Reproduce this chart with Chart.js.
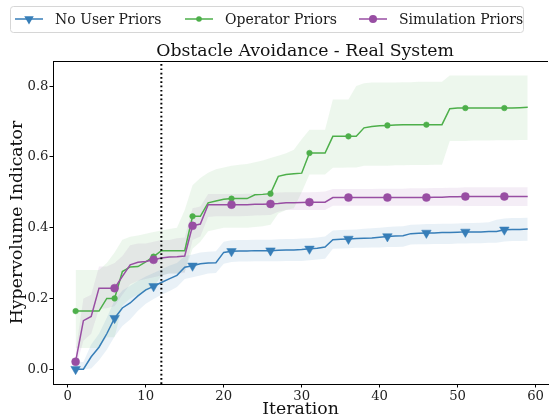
<!DOCTYPE html>
<html><head><meta charset="utf-8">
<script src="https://cdn.jsdelivr.net/npm/chart.js@4/dist/chart.umd.min.js"></script>
<style>html,body{margin:0;padding:0;background:#fff}#wrap{width:554px;height:418px;position:relative}</style>
</head><body><div id="wrap"><canvas id="c" width="554" height="418"></canvas></div>
<script>
// ---- data ----
const iterations = [1,2,3,4,5,6,7,8,9,10,11,12,13,14,15,16,17,18,19,20,21,22,23,24,25,26,27,28,29,30,
  31,32,33,34,35,36,37,38,39,40,41,42,43,44,45,46,47,48,49,50,51,52,53,54,55,56,57,58,59];
const seriesNames = ['No User Priors', 'Operator Priors', 'Simulation Priors'];

const noPriorsMean = [0.000,0.000,0.035,0.062,0.100,0.144,0.173,0.187,0.207,0.224,
 0.234,0.245,0.255,0.265,0.288,0.292,0.298,0.300,0.301,0.330,
 0.333,0.334,0.334,0.335,0.335,0.335,0.336,0.337,0.337,0.338,
 0.340,0.342,0.345,0.366,0.367,0.368,0.369,0.370,0.371,0.373,
 0.375,0.376,0.377,0.383,0.384,0.385,0.385,0.386,0.386,0.387,
 0.388,0.388,0.388,0.389,0.389,0.394,0.395,0.395,0.396];
const noPriorsLow = [0.000,0.000,0.002,0.025,0.055,0.092,0.122,0.140,0.165,0.185,
 0.198,0.210,0.220,0.232,0.255,0.260,0.265,0.270,0.272,0.298,
 0.303,0.304,0.304,0.305,0.305,0.305,0.305,0.306,0.306,0.306,
 0.308,0.310,0.312,0.340,0.341,0.342,0.343,0.343,0.344,0.344,
 0.345,0.345,0.346,0.352,0.353,0.353,0.354,0.354,0.354,0.355,
 0.355,0.356,0.356,0.357,0.357,0.361,0.362,0.362,0.363];
const noPriorsHigh = [0.020,0.020,0.070,0.100,0.145,0.195,0.222,0.236,0.250,0.262,
 0.272,0.282,0.292,0.300,0.320,0.324,0.330,0.332,0.333,0.360,
 0.364,0.365,0.365,0.366,0.366,0.366,0.367,0.368,0.368,0.369,
 0.370,0.372,0.375,0.392,0.393,0.394,0.395,0.397,0.398,0.400,
 0.402,0.403,0.404,0.408,0.409,0.410,0.410,0.411,0.411,0.412,
 0.413,0.413,0.414,0.415,0.422,0.426,0.427,0.427,0.428];

const operatorMean = [0.164,0.164,0.164,0.164,0.200,0.200,0.276,0.289,0.290,0.303,
 0.318,0.335,0.335,0.335,0.335,0.432,0.432,0.470,0.475,0.480,
 0.482,0.482,0.482,0.493,0.494,0.496,0.545,0.550,0.552,0.554,
 0.611,0.611,0.611,0.658,0.658,0.658,0.658,0.682,0.686,0.688,
 0.689,0.690,0.691,0.691,0.691,0.691,0.691,0.691,0.736,0.738,
 0.738,0.738,0.738,0.738,0.738,0.738,0.738,0.739,0.740];
const operatorLow = [0.060,0.060,0.060,0.060,0.090,0.090,0.180,0.200,0.210,0.220,
 0.230,0.265,0.270,0.270,0.275,0.340,0.360,0.390,0.395,0.400,
 0.400,0.400,0.400,0.402,0.404,0.408,0.440,0.450,0.455,0.500,
 0.550,0.550,0.550,0.569,0.569,0.570,0.570,0.575,0.575,0.575,
 0.575,0.576,0.576,0.577,0.577,0.577,0.578,0.578,0.645,0.645,
 0.645,0.646,0.646,0.646,0.647,0.647,0.647,0.648,0.648];
const operatorHigh = [0.280,0.280,0.280,0.280,0.300,0.330,0.366,0.374,0.378,0.383,
 0.388,0.392,0.396,0.400,0.450,0.520,0.540,0.555,0.565,0.570,
 0.575,0.578,0.580,0.585,0.590,0.597,0.603,0.610,0.620,0.650,
 0.677,0.677,0.677,0.762,0.762,0.762,0.800,0.808,0.810,0.810,
 0.810,0.810,0.811,0.811,0.812,0.812,0.812,0.812,0.830,0.830,
 0.830,0.830,0.830,0.830,0.830,0.830,0.830,0.830,0.830];

const simulationMean = [0.021,0.137,0.149,0.229,0.229,0.229,0.262,0.295,0.302,0.304,
 0.309,0.314,0.317,0.318,0.320,0.405,0.410,0.465,0.465,0.465,
 0.465,0.465,0.465,0.466,0.466,0.467,0.468,0.470,0.470,0.471,
 0.472,0.472,0.472,0.485,0.485,0.485,0.485,0.485,0.485,0.485,
 0.485,0.485,0.485,0.485,0.485,0.485,0.486,0.486,0.487,0.487,
 0.488,0.488,0.488,0.488,0.488,0.488,0.488,0.488,0.488];
const simulationLow = [0.000,0.080,0.100,0.170,0.172,0.178,0.210,0.240,0.250,0.255,
 0.260,0.265,0.270,0.270,0.272,0.365,0.375,0.430,0.432,0.432,
 0.432,0.432,0.433,0.434,0.435,0.436,0.445,0.450,0.450,0.450,
 0.450,0.450,0.450,0.462,0.462,0.462,0.462,0.462,0.462,0.462,
 0.462,0.462,0.462,0.462,0.462,0.462,0.462,0.462,0.462,0.462,
 0.461,0.461,0.461,0.461,0.461,0.461,0.461,0.461,0.461];
const simulationHigh = [0.050,0.200,0.210,0.290,0.290,0.300,0.320,0.350,0.355,0.355,
 0.360,0.365,0.365,0.370,0.372,0.455,0.460,0.495,0.495,0.495,
 0.495,0.495,0.496,0.496,0.497,0.497,0.499,0.500,0.500,0.500,
 0.500,0.501,0.502,0.509,0.509,0.509,0.509,0.509,0.509,0.510,
 0.510,0.510,0.510,0.511,0.511,0.511,0.512,0.512,0.513,0.513,
 0.514,0.514,0.514,0.514,0.514,0.514,0.514,0.514,0.514];

const xTicks = [0, 10, 20, 30, 40, 50, 60];
const yTicks = [0.0, 0.2, 0.4, 0.6, 0.8];
const priorsEndIteration = 12;
const titleText = 'Obstacle Avoidance - Real System';
const xLabel = 'Iteration';
const yLabel = 'Hypervolume Indicator';

// ---- styling ----
const FONT = "'DejaVu Serif', 'Liberation Serif', serif";
const colors = ['#377eb8', '#4daf4a', '#984ea3'];
const bandColors = ['rgba(55,126,184,0.11)', 'rgba(77,175,74,0.10)', 'rgba(152,78,163,0.10)'];
const markerStyle = [
  {style: 'triangle', rot: 180, r: 5.5},
  {style: 'circle', rot: 0, r: 2.8},
  {style: 'circle', rot: 0, r: 4}
];
const MARK_EVERY = 5;

const means = [noPriorsMean, operatorMean, simulationMean];
const lows = [noPriorsLow, operatorLow, simulationLow];
const highs = [noPriorsHigh, operatorHigh, simulationHigh];
const pts = arr => iterations.map((x, i) => ({x: x, y: arr[i]}));

const datasets = [];
for (let s = 0; s < 3; s++) {
  datasets.push({label: '_low' + s, data: pts(lows[s]), borderWidth: 0, pointRadius: 0,
    fill: false, order: 10 + s, showLine: true, borderColor: 'rgba(0,0,0,0)'});
  datasets.push({label: '_high' + s, data: pts(highs[s]), borderWidth: 0, pointRadius: 0,
    fill: '-1', backgroundColor: bandColors[s], order: 10 + s, borderColor: 'rgba(0,0,0,0)'});
}
const lineOrder = [2, 1, 0];
for (let s = 0; s < 3; s++) {
  const m = markerStyle[s];
  datasets.push({
    label: seriesNames[s], data: pts(means[s]), borderColor: colors[s], backgroundColor: colors[s],
    borderWidth: 1.5, tension: 0, fill: false, order: lineOrder[s],
    pointStyle: m.style, pointRotation: m.rot,
    pointRadius: ctx => (ctx.dataIndex % MARK_EVERY === 0 ? m.r : 0),
    pointBorderWidth: 0.5, pointBorderColor: colors[s], pointBackgroundColor: colors[s]
  });
}

const decorPlugin = {
  id: 'decor',
  afterLayout(chart) {
    if (chart.titleBlock) {
      chart.titleBlock.left = chart.chartArea.left;
      chart.titleBlock.right = chart.chartArea.right + 9;
    }
  },
  afterDatasetsDraw(chart) {
    const {ctx, chartArea: ca, scales} = chart;
    const px = scales.x.getPixelForValue(priorsEndIteration);
    ctx.save();
    ctx.strokeStyle = '#000';
    ctx.lineWidth = 2;
    ctx.setLineDash([1.7, 2.6]);
    ctx.beginPath();
    ctx.moveTo(px, ca.bottom);
    ctx.lineTo(px, ca.top);
    ctx.stroke();
    ctx.restore();
    ctx.save();
    ctx.strokeStyle = '#000';
    ctx.lineWidth = 1;
    ctx.beginPath();
    ctx.moveTo(ca.left, ca.top + 0.5);
    ctx.lineTo(ca.right, ca.top + 0.5);
    ctx.stroke();
    ctx.restore();
  },
  afterDraw(chart) {
    const ctx = chart.ctx;
    ctx.save();
    const bx = 10.5, by = 6.5, bw = 513, bh = 26, rr = 3;
    ctx.beginPath();
    ctx.moveTo(bx + rr, by);
    ctx.lineTo(bx + bw - rr, by);
    ctx.quadraticCurveTo(bx + bw, by, bx + bw, by + rr);
    ctx.lineTo(bx + bw, by + bh - rr);
    ctx.quadraticCurveTo(bx + bw, by + bh, bx + bw - rr, by + bh);
    ctx.lineTo(bx + rr, by + bh);
    ctx.quadraticCurveTo(bx, by + bh, bx, by + bh - rr);
    ctx.lineTo(bx, by + rr);
    ctx.quadraticCurveTo(bx, by, bx + rr, by);
    ctx.closePath();
    ctx.fillStyle = 'rgba(255,255,255,0.8)';
    ctx.fill();
    ctx.strokeStyle = '#d6d6d6';
    ctx.lineWidth = 1;
    ctx.stroke();
    const handleX = [15, 185, 359];
    const ly = 19;
    ctx.font = '14px ' + FONT;
    ctx.textBaseline = 'alphabetic';
    ctx.textAlign = 'left';
    for (let s = 0; s < 3; s++) {
      const x0 = handleX[s];
      ctx.strokeStyle = colors[s];
      ctx.lineWidth = 1.5;
      ctx.beginPath();
      ctx.moveTo(x0, ly);
      ctx.lineTo(x0 + 28, ly);
      ctx.stroke();
      const cx = x0 + 14, m = markerStyle[s];
      ctx.fillStyle = colors[s];
      ctx.beginPath();
      if (m.style === 'triangle') {
        const r = m.r;
        ctx.moveTo(cx - r * 0.866, ly - r / 2);
        ctx.lineTo(cx + r * 0.866, ly - r / 2);
        ctx.lineTo(cx, ly + r);
        ctx.closePath();
      } else {
        ctx.arc(cx, ly, m.r, 0, Math.PI * 2);
      }
      ctx.fill();
      ctx.fillStyle = '#1a1a1a';
      ctx.fillText(seriesNames[s], x0 + 40, 24);
    }
    ctx.restore();
  }
};

new Chart(document.getElementById('c'), {
  type: 'line',
  data: {datasets: datasets},
  plugins: [decorPlugin],
  options: {
    responsive: false,
    animation: false,
    devicePixelRatio: 1,
    layout: {padding: 0},
    plugins: {
      legend: {display: false},
      tooltip: {enabled: false},
      filler: {drawTime: 'beforeDatasetsDraw'},
      title: {
        display: true, text: titleText, color: '#111',
        font: {family: FONT, size: 17.3, weight: 'normal', lineHeight: 1},
        padding: {top: 43, bottom: 0.7}
      }
    },
    scales: {
      x: {
        type: 'linear', min: -1.9, max: 61.6,
        afterBuildTicks: sc => { sc.ticks = xTicks.map(v => ({value: v})); },
        afterFit: sc => { sc.height = 34; },
        ticks: {font: {family: FONT, size: 13.2}, color: '#222', padding: 1, maxRotation: 0,
          autoSkip: false, callback: v => String(v)},
        grid: {display: true, drawOnChartArea: false, drawTicks: true, tickLength: 3.5, tickColor: '#000', tickWidth: 1},
        border: {display: true, color: '#000', width: 1},
        title: {display: true, text: xLabel, color: '#111',
          font: {family: FONT, size: 17.3, lineHeight: 1}, padding: {top: 0, bottom: 0}}
      },
      y: {
        type: 'linear', min: -0.042, max: 0.871,
        afterBuildTicks: sc => { sc.ticks = yTicks.map(v => ({value: v})); },
        afterFit: sc => { sc.width = 53; },
        ticks: {font: {family: FONT, size: 13.2}, color: '#222', padding: 1,
          callback: v => Number(v).toFixed(1)},
        grid: {display: true, drawOnChartArea: false, drawTicks: true, tickLength: 3.5, tickColor: '#000', tickWidth: 1},
        border: {display: true, color: '#000', width: 1},
        title: {display: true, text: yLabel, color: '#111',
          font: {family: FONT, size: 17.3, lineHeight: 1}, padding: {top: 9, bottom: 0}}
      }
    }
  }
});
</script>
</body></html>
